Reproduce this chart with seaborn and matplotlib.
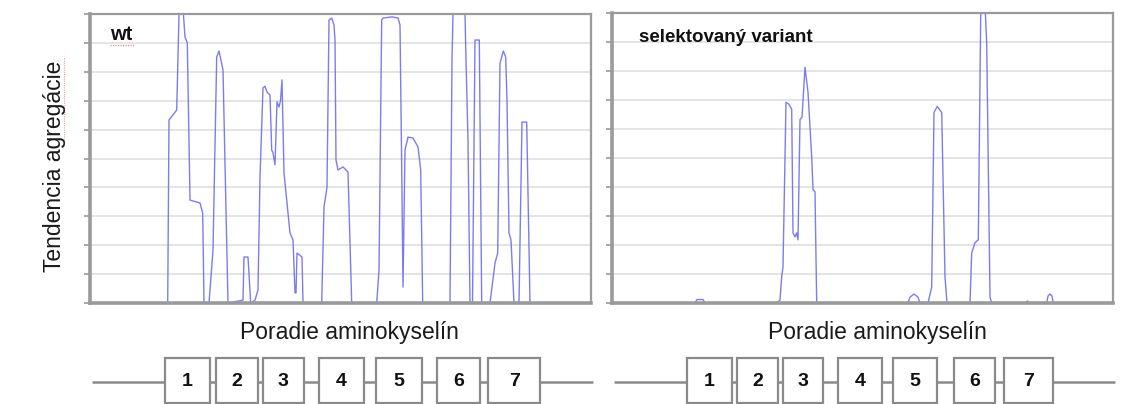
import numpy as np
import pandas as pd
import matplotlib
matplotlib.use("Agg")
import matplotlib.pyplot as plt
from matplotlib.patches import Rectangle
import seaborn as sns

# Aggregation tendency profile along the sequence (residue position, score)
wt_pos = [0, 77.7, 79, 86.7, 89, 91, 93, 95, 97.3, 100, 110, 112.7, 114,
          119, 123, 126.7, 129, 133, 138, 153, 154, 158, 160.7,
          165, 168, 170, 173, 175, 177, 180, 181.7, 183, 185, 187, 189, 190.5,
          192, 194, 200, 203, 205, 206, 207, 212, 213,
          231.7, 234, 237, 239, 241.7, 244, 245, 246, 248, 253, 258, 261.7,
          286.7, 289, 291.7, 293, 302, 308, 310, 311.7, 313, 315, 318, 323,
          328, 330.7, 332.7,
          360, 362, 363, 365, 373, 375, 376, 378, 380,
          382.5, 385, 389.3, 391.7,
          400, 405, 407.7, 410, 413.3, 415.7, 417, 419, 421, 424,
          429, 432, 436.7, 440, 501]
wt_val = [0, 0, 6.33, 6.68, 9.97, 10.4, 10.2, 9.2, 9.0, 3.56, 3.46, 3.11, 0,
          0, 1.83, 8.51, 8.72, 8.06, 0, 0.1, 1.59, 1.59, 0,
          0.1, 0.45, 4.36, 7.44, 7.5, 7.3, 7.2, 5.29, 5.2, 4.78, 6.96, 6.78, 7.0,
          7.72, 4.5, 2.42, 2.18, 0.35, 0.35, 1.73, 1.59, 0,
          0, 3.32, 4.01, 9.79, 9.86, 9.62, 9.1, 4.95, 4.6, 4.71, 4.53, 0,
          0, 1.14, 9.79, 9.86, 9.9, 9.86, 9.62, 4.71, 0.55, 5.29, 5.74, 5.71,
          5.4, 4.6, 0,
          0, 8.4, 10.0, 10.5, 10.5, 10.0, 8.4, 5.64, 0,
          0, 9.1, 9.1, 0,
          0, 1.38, 1.73, 8.3, 8.72, 8.51, 7.02, 2.42, 2.18, 0,
          0, 6.26, 6.26, 0, 0]

sel_pos = [0, 83, 85, 91, 93,
           164.7, 168, 169.7, 171, 174, 177, 179.7, 181, 183, 184.7, 186, 188,
           190, 193, 196, 199.7, 201, 203, 204.7,
           296, 298, 302, 306, 308,
           316, 319.7, 322, 325.3, 329.7, 333, 335,
           358, 359.7, 363, 366.3, 368.7, 371, 373, 374.7, 378, 379.7,
           413, 415.5, 418,
           434.7, 436, 438, 440, 441.3, 501]
sel_val = [0, 0, 0.12, 0.12, 0,
           0, 0.1, 0.9, 1.25, 6.92, 6.85, 6.68, 2.42, 2.28, 2.42, 2.18, 6.33,
           6.4, 8.13, 7.27, 5.05, 3.91, 3.84, 0,
           0, 0.2, 0.31, 0.2, 0,
           0, 0.55, 6.57, 6.78, 6.57, 0.9, 0,
           0, 1.73, 2.08, 2.18, 9.9, 10.3, 10.3, 8.93, 0.2, 0,
           0, 0.07, 0,
           0, 0.24, 0.31, 0.24, 0, 0]

# Domain layout (residue ranges) under each profile
domain_labels = ["1", "2", "3", "4", "5", "6", "7"]
wt_dom_start = [75, 126, 172.7, 229.3, 286, 347.3, 398.3]
wt_dom_end = [120, 168.3, 214, 274, 331.7, 390, 450]
sel_dom_start = [75.3, 124.7, 170.7, 226.3, 281.3, 342, 392]
sel_dom_end = [119.7, 166.3, 210.7, 269.7, 325.3, 383, 440.7]

panel_titles = ["wt", "selektovaný variant"]
xlabel = "Poradie aminokyselín"
ylabel = "Tendencia agregácie"

sns.set_style("white")
plt.rcParams["font.family"] = ["Liberation Sans", "DejaVu Sans"]

W, H = 1134, 404
fig = plt.figure(figsize=(W / 100, H / 100), dpi=100)

line_color = "#6e6ef0"
spine_color = "#9a9a9a"
grid_color = "#e4e4e4"


def px_axes(x0, y0, x1, y1):
    return fig.add_axes([x0 / W, 1 - y1 / H, (x1 - x0) / W, (y1 - y0) / H])


panels = [
    (px_axes(90, 14, 591, 303), wt_pos, wt_val, wt_dom_start, wt_dom_end,
     (20, 21, 14.5), 349),
    (px_axes(612, 13, 1113, 303), sel_pos, sel_val, sel_dom_start, sel_dom_end,
     (27, 24, 13.5), 877),
]

for i, (ax, pos, val, ds, de, title_spec, label_cx) in enumerate(panels):
    df = pd.DataFrame({"pos": pos, "val": val})
    sns.lineplot(data=df, x="pos", y="val", ax=ax, sort=False, estimator=None,
                 color=line_color, lw=1.0, alpha=0.9)
    ax.set_xlim(0, 501)
    ax.set_ylim(0, 10)
    ax.set_yticks(np.arange(0, 11, 1))
    ax.set_xticks([])
    ax.set_yticklabels([])
    ax.set_xlabel("")
    ax.set_ylabel("")
    ax.grid(axis="y", color=grid_color, lw=1.4)
    ax.set_axisbelow(True)
    ax.tick_params(axis="y", direction="out", length=4, width=1.2,
                   color=spine_color, left=True)
    for side in ["top", "right"]:
        ax.spines[side].set_color(spine_color)
        ax.spines[side].set_linewidth(1.6)
    for side in ["left", "bottom"]:
        ax.spines[side].set_color(spine_color)
        ax.spines[side].set_linewidth(2.6)
    tx, ty, tsize = title_spec
    ax.text(tx, 10 - ty / 28.9, panel_titles[i], fontsize=tsize,
            fontweight="bold", ha="left", va="center", color="#111111")

    # axis caption below the plot
    fig.text(label_cx / W, 1 - 333 / H, xlabel,
             fontsize=16.5, ha="center", va="center", color="#1a1a1a")

    # domain schematic sharing the residue scale
    bb = ax.get_position()
    dax = fig.add_axes([bb.x0, 0, bb.width, 50 / H])
    dax.set_xlim(0, 501)
    dax.set_ylim(0, 50)
    dax.axis("off")
    dax.plot([2, 503], [22, 22], color="#8a8a8a", lw=1.8, clip_on=False,
             solid_capstyle="butt")
    for s, e, lab in zip(ds, de, domain_labels):
        dax.add_patch(Rectangle((s, 1), e - s, 45, facecolor="white",
                                edgecolor="#8a8a8a", lw=1.6, zorder=3))
        dax.text((s + e) / 2, 22, lab, fontsize=14, fontweight="bold",
                 ha="center", va="center", zorder=4, color="#111111")

# spell-check style underline under "wt"
fig.add_artist(plt.Line2D([110 / W, 135 / W], [1 - 45 / H, 1 - 45 / H],
                          color="#f08a8a", lw=0.9, ls=(0, (1, 1))))

fig.text(55 / W, 1 - 166 / H, ylabel, rotation=90, fontsize=16.5,
         ha="center", va="center", color="#1a1a1a")
# dotted red mark beside "agregácie"
fig.add_artist(plt.Line2D([64 / W, 64 / W], [1 - 58 / H, 1 - 145 / H],
                          color="#f2a0a0", lw=0.8, ls=(0, (1, 1))))

fig.savefig("out.png", dpi=100)
